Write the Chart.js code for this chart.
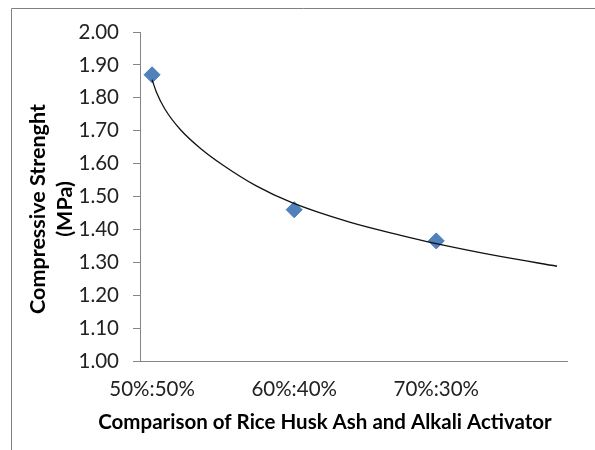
<!doctype html>
<html lang="en">
  <head>
    <meta charset="utf-8" />
    <title>Compressive strength by rice husk ash : alkali activator ratio</title>
    <style>
      html,
      body {
        margin: 0;
        padding: 0;
        background: #fff;
        overflow: hidden;
      }
      #chartBox {
        position: relative;
        width: 595px;
        height: 450px;
      }
    </style>
    <script src="https://cdn.jsdelivr.net/npm/chart.js@4.4.1/dist/chart.umd.min.js"></script>
  </head>
  <body>
    <div id="chartBox"><canvas id="strengthChart" width="595" height="450"></canvas></div>
    <script>
      // mix ratios, placed at 1, 2, 3 along the x axis
      const ratioLabels = ["50%:50%", "60%:40%", "70%:30%"];
      const ratioPositions = [1, 2, 3];
      const strengthValues = [1.87, 1.46, 1.365];

      // trendline
      const trendPositions = [1.0, 1.03, 1.09, 1.2, 1.35, 1.5, 1.73, 1.98, 2.39, 2.75, 3.0, 3.45, 3.85];
      const trendValues = [1.855, 1.818, 1.766, 1.703, 1.643, 1.595, 1.533, 1.482, 1.422, 1.382, 1.357, 1.318, 1.288];

      const yTickValues = [1.0, 1.1, 1.2, 1.3, 1.4, 1.5, 1.6, 1.7, 1.8, 1.9, 2.0];

      const xTitle = "Comparison of Rice Husk Ash and Alkali Activator";
      const yTitle = ["Compressive Strenght", "(MPa)"];

      const axisGray = "#868686";
      const tickFont = { family: "Lato", size: 20.5 };

      // frame plus axis titles (Excel puts them a bit off the plot centre)
      const chartText = {
        id: "chartText",
        beforeDraw(chart) {
          const ctx = chart.ctx;
          ctx.save();
          ctx.strokeStyle = "#808080";
          ctx.lineWidth = 1;
          ctx.beginPath();
          ctx.moveTo(11.5, 460);
          ctx.lineTo(11.5, 8.5);
          ctx.lineTo(600, 8.5);
          ctx.stroke();
          ctx.restore();
        },
        afterDraw(chart) {
          const ctx = chart.ctx;
          ctx.save();
          ctx.fillStyle = "#000";
          ctx.textAlign = "center";
          ctx.textBaseline = "middle";
          ctx.font = "bold 20.5px Lato";
          ctx.fillText(xTitle, 325, 422);

          ctx.font = "bold 21.5px Lato";
          ctx.translate(0, 209);
          ctx.rotate(-Math.PI / 2);
          ctx.fillText(yTitle[0], 0, 38);
          ctx.fillText(yTitle[1], 0, 65);
          ctx.restore();
        }
      };

      const ctx = document.getElementById("strengthChart").getContext("2d");
      new Chart(ctx, {
        type: "scatter",
        data: {
          datasets: [
            {
              label: "Trendline",
              data: trendPositions.map((x, i) => ({ x, y: trendValues[i] })),
              showLine: true,
              borderColor: "#111",
              borderWidth: 1.3,
              pointRadius: 0,
              cubicInterpolationMode: "monotone",
              order: 0
            },
            {
              label: "Compressive Strength",
              data: ratioPositions.map((x, i) => ({ x, y: strengthValues[i] })),
              pointStyle: "rectRot",
              pointRadius: 8,
              backgroundColor: "#4F81BD",
              borderColor: "#4A7AB5",
              borderWidth: 1,
              order: 1
            }
          ]
        },
        options: {
          responsive: false,
          animation: false,
          layout: {
            padding: { top: 32, right: 28, left: 0, bottom: 0 }
          },
          scales: {
            x: {
              type: "linear",
              min: 0.915,
              max: 3.92,
              afterFit: (scale) => {
                scale.height = 89;
              },
              afterBuildTicks: (scale) => {
                scale.ticks = ratioPositions.map((value) => ({ value }));
              },
              grid: { display: false, drawTicks: false },
              border: { display: true, color: axisGray, width: 1 },
              ticks: {
                padding: 16,
                color: "#222",
                font: tickFont,
                maxRotation: 0,
                callback: (value) => ratioLabels[ratioPositions.indexOf(value)]
              }
            },
            y: {
              min: 1,
              max: 2,
              afterFit: (scale) => {
                scale.width = 140;
              },
              afterBuildTicks: (scale) => {
                scale.ticks = yTickValues.map((value) => ({ value }));
              },
              grid: {
                drawOnChartArea: false,
                drawTicks: true,
                tickLength: 7,
                color: axisGray
              },
              border: { display: true, color: axisGray, width: 1 },
              ticks: {
                padding: 14,
                color: "#222",
                font: tickFont,
                callback: (value) => value.toFixed(2)
              }
            }
          },
          plugins: {
            legend: { display: false },
            tooltip: { enabled: false }
          }
        },
        plugins: [chartText]
      });
    </script>
  </body>
</html>
